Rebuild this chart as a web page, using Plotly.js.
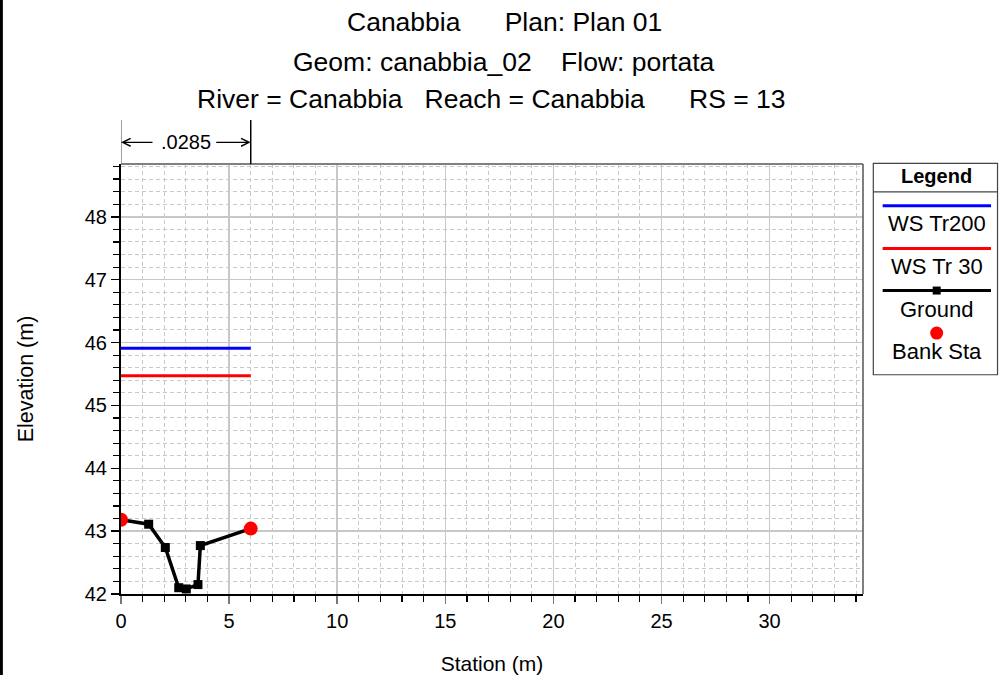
<!DOCTYPE html>
<html>
<head>
<meta charset="utf-8">
<script src="https://cdn.plot.ly/plotly-3.0.1.min.js"></script>
<style>
  html, body { margin: 0; padding: 0; background: #fff; }
  #chart { width: 999px; height: 675px; }
</style>
</head>
<body>
<div id="chart"></div>
<script>
// Cross section RS 13, Canabbia reach
const groundStation = [0, 1.28, 2.05, 2.67, 3.02, 3.56, 3.67, 6.0];
const groundElev    = [43.18, 43.11, 42.74, 42.10, 42.08, 42.15, 42.77, 43.04];

const bankStation = [0, 6.0];
const bankElev    = [43.18, 43.04];

// Water surface profiles (spanning the bank stations)
const wsStation = [0, 6.0];
const wsTr200   = [45.91, 45.91];
const wsTr30    = [45.47, 45.47];

// Manning's n for the channel segment
const nValue = ".0285";

const NB = "\u00a0";
const titleLines = [
  "Canabbia" + NB.repeat(6) + "Plan: Plan 01",
  "Geom: canabbia_02" + NB.repeat(4) + "Flow: portata",
  "River = Canabbia" + NB.repeat(3) + "Reach = Canabbia" + NB.repeat(6) + "RS = 13"
];
const legendLabels = ["WS Tr200", "WS Tr 30", "Ground", "Bank Sta"];

const FONT = "Liberation Sans, Arial, Helvetica, sans-serif";

const traces = [
  { x: wsStation, y: wsTr200, mode: "lines", name: legendLabels[0],
    line: { color: "#0000ff", width: 3 }, showlegend: false, hoverinfo: "x+y" },
  { x: wsStation, y: wsTr30, mode: "lines", name: legendLabels[1],
    line: { color: "#ff0000", width: 3 }, showlegend: false, hoverinfo: "x+y" },
  { x: groundStation, y: groundElev, mode: "lines+markers", name: legendLabels[2],
    line: { color: "#000000", width: 3.5 },
    marker: { symbol: "square", size: 9, color: "#000000" },
    showlegend: false, hoverinfo: "x+y" },
  { x: bankStation, y: bankElev, mode: "markers", name: legendLabels[3],
    marker: { symbol: "circle", size: 14, color: "#ff0000" },
    showlegend: false, hoverinfo: "x+y" }
];

// Legend panel geometry (paper units)
const LG = { x0: 1.0139, x1: 1.1813, y0: 0.5099, y1: 1.0016, sep: 0.935,
             cx: 1.0993, lx0: 1.0265, lx1: 1.1725 };
const swatchY = [0.9031, 0.8033, 0.7057, 0.6067];
const labelY  = [0.8606, 0.7614, 0.6625, 0.564];

const shapes = [
  // upper and right frame of the plot area
  { type: "line", xref: "paper", yref: "paper", x0: 0, x1: 1, y0: 1, y1: 1,
    line: { color: "#808080", width: 2 } },
  { type: "line", xref: "paper", yref: "paper", x0: 1, x1: 1, y0: 0, y1: 1,
    line: { color: "#555555", width: 1.5 } },
  // n-value segment limits
  { type: "line", xref: "x", yref: "paper", x0: bankStation[0], x1: bankStation[0],
    y0: 1, y1: 1.1022, line: { color: "#808080", width: 1.5 } },
  { type: "line", xref: "x", yref: "paper", x0: bankStation[1], x1: bankStation[1],
    y0: 1, y1: 1.1022, line: { color: "#000000", width: 1.5 } },
  // page edge line on the left
  { type: "line", xref: "paper", yref: "paper", x0: -0.1612, x1: -0.1612, y0: -0.25, y1: 1.45,
    line: { color: "#000000", width: 3 } },
  // legend box
  { type: "rect", xref: "paper", yref: "paper", x0: LG.x0, x1: LG.x1, y0: LG.y0, y1: LG.y1,
    line: { color: "#444444", width: 1.2 }, fillcolor: "rgba(0,0,0,0)" },
  { type: "line", xref: "paper", yref: "paper", x0: LG.x0, x1: LG.x1, y0: LG.sep, y1: LG.sep,
    line: { color: "#444444", width: 1.2 } },
  // legend swatches
  { type: "line", xref: "paper", yref: "paper", x0: LG.lx0, x1: LG.lx1, y0: swatchY[0], y1: swatchY[0],
    line: { color: "#0000ff", width: 3 } },
  { type: "line", xref: "paper", yref: "paper", x0: LG.lx0, x1: LG.lx1, y0: swatchY[1], y1: swatchY[1],
    line: { color: "#ff0000", width: 3 } },
  { type: "line", xref: "paper", yref: "paper", x0: LG.lx0, x1: LG.lx1, y0: swatchY[2], y1: swatchY[2],
    line: { color: "#000000", width: 3 } },
  { type: "rect", xref: "paper", yref: "paper", xsizemode: "pixel", ysizemode: "pixel",
    xanchor: LG.cx, yanchor: swatchY[2], x0: -4, x1: 4, y0: -4, y1: 4,
    line: { width: 0 }, fillcolor: "#000000" },
  { type: "circle", xref: "paper", yref: "paper", xsizemode: "pixel", ysizemode: "pixel",
    xanchor: LG.cx, yanchor: swatchY[3], x0: -6.5, x1: 6.5, y0: -6.5, y1: 6.5,
    line: { width: 0 }, fillcolor: "#ff0000" }
];

const annotations = [];
const titleY = [1.3298, 1.2369, 1.151];
const titleX = [0.5167, 0.5167, 0.4989];
titleLines.forEach((t, i) => annotations.push({
  text: t, xref: "paper", yref: "paper", x: titleX[i], y: titleY[i],
  xanchor: "center", yanchor: "middle", showarrow: false,
  font: { family: FONT, size: 26.5, color: "#000" }
}));

// n-value label with arrows to the segment limits
annotations.push({
  text: nValue, xref: "x", yref: "paper", x: (bankStation[0] + bankStation[1]) / 2, y: 1.0504,
  xanchor: "center", yanchor: "middle", showarrow: false,
  font: { family: FONT, size: 20, color: "#000" }
});
annotations.push({
  text: "", xref: "x", yref: "paper", x: bankStation[0], y: 1.0504,
  showarrow: true, ax: 33, ay: 0, arrowhead: 5, arrowsize: 1.3, arrowwidth: 1.2, arrowcolor: "#000"
});
annotations.push({
  text: "", xref: "x", yref: "paper", x: bankStation[1], y: 1.0504,
  showarrow: true, ax: -36, ay: 0, arrowhead: 5, arrowsize: 1.3, arrowwidth: 1.2, arrowcolor: "#000"
});

// legend texts
annotations.push({
  text: "<b>Legend</b>", xref: "paper", yref: "paper", x: LG.cx, y: 0.9728,
  xanchor: "center", yanchor: "middle", showarrow: false,
  font: { family: FONT, size: 20, color: "#000" }
});
legendLabels.forEach((t, i) => annotations.push({
  text: t, xref: "paper", yref: "paper", x: LG.cx, y: labelY[i],
  xanchor: "center", yanchor: "middle", showarrow: false,
  font: { family: FONT, size: 22, color: "#000" }
}));

const layout = {
  width: 999, height: 675,
  margin: { l: 121, r: 136, t: 164, b: 80.5, pad: 0 },
  paper_bgcolor: "#ffffff", plot_bgcolor: "#ffffff",
  font: { family: FONT, size: 20, color: "#000" },
  showlegend: false,
  xaxis: {
    range: [0, 34.32], tick0: 0, dtick: 5, zeroline: false,
    showline: true, linecolor: "#000", linewidth: 2,
    ticks: "outside", ticklen: 8, tickcolor: "#777", tickwidth: 1.5,
    showgrid: true, gridcolor: "#c8c8c8", gridwidth: 1.5,
    tickfont: { family: FONT, size: 20, color: "#000" },
    minor: { dtick: 1, ticks: "outside", ticklen: 6, tickcolor: "#000", tickwidth: 1.2,
             showgrid: true, gridcolor: "#c8c8c8", gridwidth: 1, griddash: "4px,3px" },
    title: { text: "Station (m)", font: { family: FONT, size: 21, color: "#000" }, standoff: 27 },
    automargin: false
  },
  yaxis: {
    range: [42, 48.84], tick0: 42, dtick: 1, zeroline: false,
    showline: true, linecolor: "#000", linewidth: 2,
    ticks: "outside", ticklen: 8, tickcolor: "#000", tickwidth: 1.5,
    showgrid: true, gridcolor: "#c8c8c8", gridwidth: 1.5,
    tickfont: { family: FONT, size: 20, color: "#000" },
    minor: { dtick: 0.2, ticks: "outside", ticklen: 6, tickcolor: "#000", tickwidth: 1.2,
             showgrid: true, gridcolor: "#c8c8c8", gridwidth: 1, griddash: "4px,3px" },
    title: { text: "Elevation (m)", font: { family: FONT, size: 21.5, color: "#000" }, standoff: 45 },
    automargin: false
  },
  shapes: shapes,
  annotations: annotations
};

Plotly.newPlot("chart", traces, layout, { displayModeBar: false, staticPlot: true });
</script>
</body>
</html>
